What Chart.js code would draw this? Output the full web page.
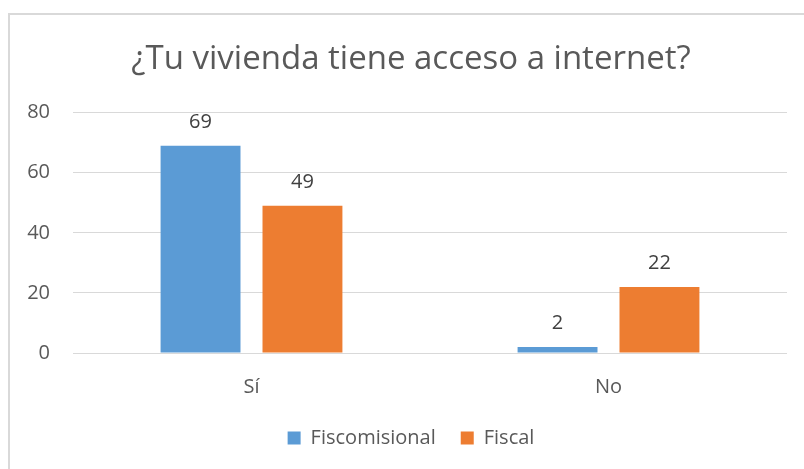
<!DOCTYPE html>
<html>
<head>
<meta charset="utf-8">
<script src="https://cdn.jsdelivr.net/npm/chart.js@4/dist/chart.umd.min.js"></script>
<style>
  html, body { margin: 0; padding: 0; background: #ffffff; }
  #wrap { position: relative; width: 804px; height: 469px; overflow: hidden; }
  #frame { position: absolute; left: 8px; top: 13px; width: 900px; height: 600px;
           border-left: 2px solid #d9d9d9; border-top: 2px solid #d9d9d9; pointer-events: none; }
  canvas { position: absolute; left: 0; top: 0; }
</style>
</head>
<body>
<div id="wrap">
  <canvas id="c" width="804" height="469"></canvas>
  <div id="frame"></div>
</div>
<script>
const titleText = "¿Tu vivienda tiene acceso a internet?";
const categories = ["Sí", "No"];
const seriesNames = ["Fiscomisional", "Fiscal"];
const fiscomisional = [69, 2];
const fiscal = [49, 22];
const yTicks = [0, 20, 40, 60, 80];

const FONT = "'Open Sans', 'Noto Sans', sans-serif";
Chart.defaults.font.family = FONT;
Chart.defaults.color = "#595959";

const valueLabels = {
  id: "valueLabels",
  afterDatasetsDraw(chart) {
    const ctx = chart.ctx;
    ctx.save();
    ctx.font = "20px " + FONT;
    ctx.fillStyle = "#404040";
    ctx.textAlign = "center";
    ctx.textBaseline = "alphabetic";
    chart.data.datasets.forEach((ds, di) => {
      const meta = chart.getDatasetMeta(di);
      meta.data.forEach((el, i) => {
        ctx.fillText(String(ds.data[i]), el.x, el.y - 18);
      });
    });
    ctx.restore();
  }
};

new Chart(document.getElementById("c"), {
  type: "bar",
  data: {
    labels: categories,
    datasets: [
      { label: seriesNames[0], data: fiscomisional, backgroundColor: "#5B9BD5",
        categoryPercentage: 0.571, barPercentage: 0.784 },
      { label: seriesNames[1], data: fiscal, backgroundColor: "#ED7D31",
        categoryPercentage: 0.571, barPercentage: 0.784 }
    ]
  },
  options: {
    responsive: false,
    animation: false,
    devicePixelRatio: 1,
    layout: { padding: { left: 18, right: 0, top: 0, bottom: 11 } },
    plugins: {
      title: {
        display: true,
        text: titleText,
        color: "#595959",
        font: { size: 33, weight: "normal", lineHeight: 1.2 },
        padding: { top: 40, bottom: 33 }
      },
      legend: {
        display: true,
        position: "bottom",
        labels: {
          boxWidth: 13, boxHeight: 13, padding: 25,
          color: "#595959",
          font: { size: 20 }
        }
      },
      tooltip: { enabled: false }
    },
    scales: {
      x: {
        grid: { display: false, drawTicks: false },
        border: { display: false },
        ticks: { padding: 22, color: "#595959", font: { size: 20 } },
        afterFit(scale) { scale.height = 50; }
      },
      y: {
        min: 0, max: 80,
        afterBuildTicks(scale) { scale.ticks = yTicks.map(v => ({ value: v })); },
        grid: { color: "#d9d9d9", lineWidth: 1, drawTicks: false },
        border: { display: false },
        ticks: { padding: 23, color: "#595959", font: { size: 20 } },
        afterFit(scale) { scale.width = 55; }
      },
      spacer: {
        type: "linear",
        position: "right",
        display: true,
        grid: { display: false, drawTicks: false },
        border: { display: false },
        ticks: { display: false },
        afterFit(scale) { scale.width = 17; }
      }
    }
  },
  plugins: [valueLabels]
});
</script>
</body>
</html>
